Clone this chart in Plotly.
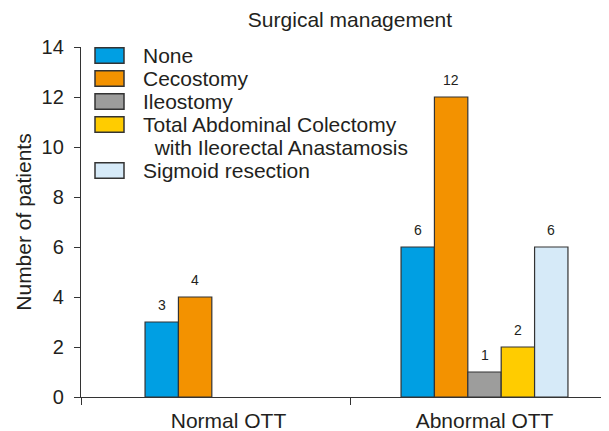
import plotly.graph_objects as go

# ---------------- data ----------------
categories = ["Normal OTT", "Abnormal OTT"]
series_names = ["None", "Cecostomy", "Ileostomy",
                "Total Abdominal Colectomy<br>with Ileorectal Anastamosis",
                "Sigmoid resection"]
none_vals = [3, 6]
cecostomy_vals = [4, 12]
ileostomy_vals = [None, 1]
total_colectomy_vals = [None, 2]
sigmoid_vals = [None, 6]
y_tick_vals = [0, 2, 4, 6, 8, 10, 12, 14]
title_text = "Surgical management"
y_title = "Number of patients"

series_values = [none_vals, cecostomy_vals, ileostomy_vals, total_colectomy_vals, sigmoid_vals]
colors = ["#009FE3", "#F39200", "#9D9D9C", "#FFCC00", "#D6EAF8"]

# ---------------- layout constants ----------------
OFF = 8  # page body margin offset
W, H = 609 - OFF, 431 - OFF
ML, MT = 81 - OFF, 47 - OFF
PLOT_BOTTOM = 397 - OFF
PLOT_RIGHT = 609 - OFF
MR, MB = W - PLOT_RIGHT, H - PLOT_BOTTOM
PW, PH = W - ML - MR, H - MT - MB
FONT = "Liberation Sans, Arial, sans-serif"
TXT = "#231F20"
AX = "#333333"
BARGAP = 0.348
XR = [-0.5762, 1.4863]
BOUNDARY = 0.475


def px_x(p):
    # p in reference screen pixels -> paper coordinate
    return (p - OFF - ML) / PW


def px_y(p):
    return (PLOT_BOTTOM - (p - OFF)) / PH


x_pos = list(range(len(categories)))
fig = go.Figure()
for name, vals, col in zip(series_names, series_values, colors):
    fig.add_trace(go.Bar(
        x=x_pos, y=vals, name=name.replace("<br>", " "),
        marker=dict(color=col, line=dict(color=AX, width=1.2)),
        showlegend=False, hoverinfo="skip",
    ))

# value labels above the bars (positioned via data coordinates)
n = len(series_names)
bw = (1 - BARGAP) / n
annotations = []
for i, vals in enumerate(series_values):
    for ci, v in enumerate(vals):
        if v is None:
            continue
        annotations.append(dict(
            x=x_pos[ci] + (i - (n - 1) / 2) * bw, y=v, xref="x", yref="y",
            text=str(v), showarrow=False, yanchor="bottom", yshift=7,
            font=dict(family=FONT, size=14, color=TXT),
        ))

# legend (boxes + text)
shapes = []
row_y = 55.5
for name, col in zip(series_names, colors):
    lines = name.split("<br>")
    shapes.append(dict(type="rect", xref="paper", yref="paper",
                       x0=px_x(95), x1=px_x(124),
                       y0=px_y(row_y + 7.8), y1=px_y(row_y - 7.8),
                       fillcolor=col, line=dict(color=AX, width=1.5)))
    for li, ln in enumerate(lines):
        annotations.append(dict(
            x=px_x(141), y=px_y(row_y + 23 * li),
            xref="paper", yref="paper", xanchor="left", yanchor="middle",
            text=("\u00a0\u00a0" + ln) if li > 0 else ln, showarrow=False,
            font=dict(family=FONT, size=21, color=TXT),
        ))
    row_y += 23 * len(lines)

fig.update_layout(
    width=W, height=H,
    margin=dict(l=ML, r=MR, t=MT, b=MB, pad=0, autoexpand=False),
    paper_bgcolor="white", plot_bgcolor="white",
    barmode="group", bargap=BARGAP, bargroupgap=0,
    showlegend=False,
    title=dict(text=title_text, x=px_x(350), xanchor="center", xref="paper",
               y=1 - (20 - OFF) / H, yanchor="middle", yref="container",
               font=dict(family=FONT, size=21, color=TXT)),
    font=dict(family=FONT, color=TXT),
    xaxis=dict(
        range=XR, tickvals=x_pos, ticktext=categories, ticks="",
        showline=True, linecolor=AX, linewidth=1.3, showgrid=False,
        zeroline=False, tickfont=dict(family=FONT, size=21, color=TXT),
        ticklabelstandoff=5, automargin=False,
        minor=dict(tickvals=[XR[0], BOUNDARY], ticks="outside", ticklen=7,
                   tickcolor=AX, tickwidth=1.3, showgrid=False),
    ),
    yaxis=dict(
        range=[0, 14], tickvals=y_tick_vals, ticks="outside", ticklen=6,
        tickcolor=AX, tickwidth=1.3, showline=True, linecolor=AX, linewidth=1.3,
        showgrid=False, zeroline=False, automargin=False,
        tickfont=dict(family=FONT, size=20, color=TXT), ticklabelstandoff=6,
        title=dict(text=y_title, standoff=4,
                   font=dict(family=FONT, size=21, color=TXT)),
    ),
    shapes=shapes, annotations=annotations,
)

fig.write_html("out.html")
